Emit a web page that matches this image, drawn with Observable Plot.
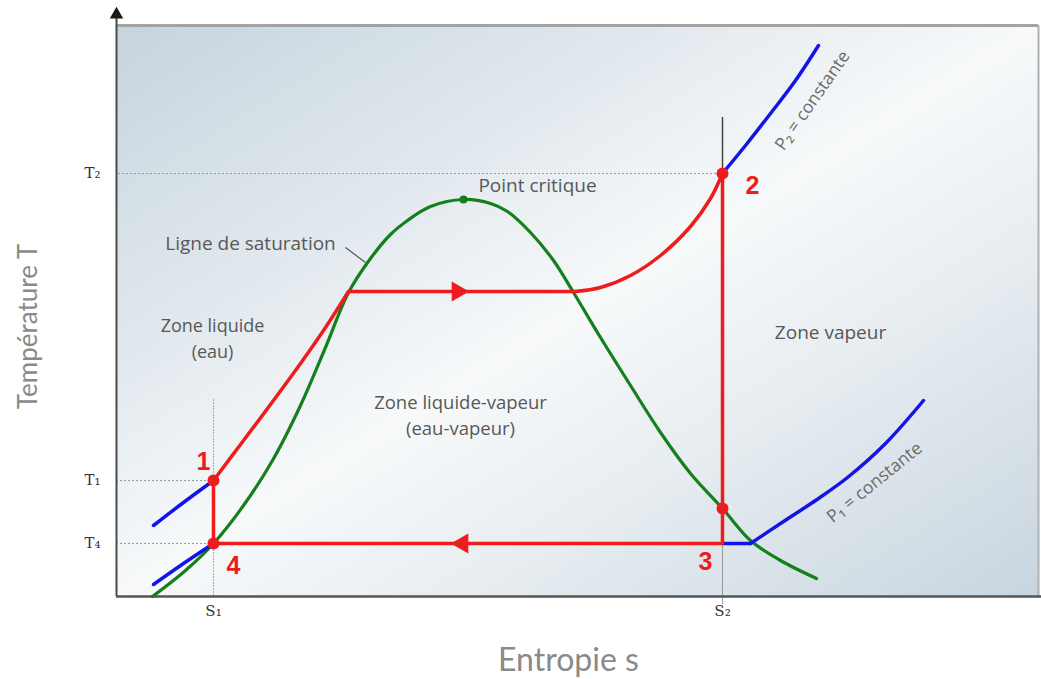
<!DOCTYPE html>
<html>
<head>
<meta charset="utf-8">
<script src="https://cdn.jsdelivr.net/npm/d3@7"></script>
<script src="https://cdn.jsdelivr.net/npm/@observablehq/plot@0.6"></script>
<style>
  body { margin: 0; background: #ffffff; }
  #chart svg { display: block; }
</style>
</head>
<body>
<div id="chart"></div>
<script>
// ---- Data (entropy s, temperature T, arbitrary units) ----
const sTicks = [97, 606];
const sTickLabels = ["S₁", "S₂"];
const tTicks = [53, 116, 423];
const tTickLabels = ["T₄", "T₁", "T₂"];

// Saturation dome (green)
const saturationCurve = [
  [36, 0], [69, 26], [97, 53], [127, 91], [156, 136], [184, 191], [209, 249],
  [232, 304], [254, 338], [274, 362], [291, 376], [314, 390], [347, 397],
  [374, 393], [391, 385], [414, 364], [437, 336], [457, 304], [484, 259],
  [514, 211], [544, 164], [574, 123], [606, 88], [634, 56], [664, 36], [700, 18]
];
const criticalPoint = [[347, 397]];

// Isobars (blue)
const isobarP2Low = [[37, 71], [67, 94], [97, 116]];
const isobarP2High = [[606, 423], [629, 451], [654, 483], [679, 516], [702, 551]];
const isobarP1Low = [[37, 12], [67, 33], [97, 53]];
const isobarP1Flat = [[606, 53], [634, 53]];
const isobarP1High = [[634, 53], [664, 73], [699, 96], [731, 119], [769, 153], [807, 196]];

// Cycle (red)
const cycleLiquid = [[97, 116], [124, 152], [154, 192], [184, 233], [209, 269], [232, 305]];
const cycleEvaporation = [[232, 305], [459, 305]];
const cycleSuperheat = [[459, 305], [484, 309], [514, 321], [544, 341], [574, 370], [594, 398], [606, 423]];
const cycleReturn = [[606, 423], [606, 53], [97, 53], [97, 116]];
const cyclePoints = [[97, 116], [97, 53], [606, 423], [606, 88]];
const flowArrows = [[341, 305, 90], [346, 53, -90]];
const pointNames = ["1", "2", "3", "4"];
const pointLabelPos = [[87, 135], [636, 411], [589, 35], [117, 31]];

const X = d => d[0], Y = d => d[1];
const RED = "#ee1c1c", GREEN = "#14801c", BLUE = "#1414e6", GREY = "#585858";
const labelFont = "Open Sans";

const chart = Plot.plot({
  width: 1041,
  height: 679,
  marginLeft: 116,
  marginRight: 3,
  marginTop: 25,
  marginBottom: 83,
  x: { domain: [0, 922] },
  y: { domain: [0, 571] },
  style: { fontFamily: labelFont, background: "#ffffff", overflow: "visible" },
  marks: [
    Plot.frame({ fill: "url(#bgGrad)", stroke: null }),
    // borders
    Plot.ruleY([571], { x1: 0, x2: 922, stroke: "#a3a3a3", strokeWidth: 3 }),
    Plot.ruleX([922], { y1: 0, y2: 571, stroke: "#b0b0b0", strokeWidth: 2 }),
    // reference lines
    Plot.ruleY([tTicks[2]], { x1: 2, x2: 604, stroke: "#9a9a9a", strokeWidth: 1, strokeDasharray: "2,2" }),
    Plot.ruleY([tTicks[1], tTicks[0]], { x1: 0, x2: 97, stroke: "#9a9a9a", strokeWidth: 1, strokeDasharray: "2,2" }),
    Plot.ruleX([sTicks[0]], { y1: 0, y2: 198, stroke: "#a8a8a8", strokeWidth: 1, strokeDasharray: "2,1" }),
    Plot.ruleX([sTicks[1]], { y1: 423, y2: 479, stroke: "#444", strokeWidth: 1.5 }),
    Plot.ruleX([sTicks[1]], { y1: -8, y2: 53, stroke: "#9a9a9a", strokeWidth: 1 }),
    // axes lines
    Plot.ruleY([0], { x1: 0, x2: 925, stroke: "#555", strokeWidth: 2.5 }),
    Plot.ruleX([0], { y1: 0, y2: 580, stroke: "#4a4a4a", strokeWidth: 2 }),
    Plot.dot([[0, 582]], { x: X, y: Y, symbol: "triangle", r: 5, fill: "#1a1a1a", stroke: null }),
    Plot.axisX(sTicks, { tickSize: 0, tickPadding: 9, fontSize: 15, fontFamily: "DejaVu Serif", fill: "#333",
      tickFormat: d => sTickLabels[sTicks.indexOf(d)] }),
    Plot.axisY(tTicks, { tickSize: 0, tickPadding: 16, fontSize: 15, fontFamily: "DejaVu Serif", fill: "#333",
      tickFormat: d => tTickLabels[tTicks.indexOf(d)] }),
    // saturation dome
    Plot.line(saturationCurve, { x: X, y: Y, stroke: GREEN, strokeWidth: 3.2, curve: "catmull-rom" }),
    Plot.dot(criticalPoint, { x: X, y: Y, r: 4, fill: GREEN, stroke: null }),
    // isobars
    Plot.line(isobarP2Low, { x: X, y: Y, stroke: BLUE, strokeWidth: 3.5, curve: "catmull-rom" }),
    Plot.line(isobarP2High, { x: X, y: Y, stroke: BLUE, strokeWidth: 3.5, curve: "catmull-rom" }),
    Plot.line(isobarP1Low, { x: X, y: Y, stroke: BLUE, strokeWidth: 3.5, curve: "catmull-rom" }),
    Plot.line(isobarP1Flat, { x: X, y: Y, stroke: BLUE, strokeWidth: 3.5 }),
    Plot.line(isobarP1High, { x: X, y: Y, stroke: BLUE, strokeWidth: 3.5, curve: "catmull-rom" }),
    // cycle
    Plot.line(cycleLiquid, { x: X, y: Y, stroke: RED, strokeWidth: 3.5, curve: "catmull-rom" }),
    Plot.line(cycleEvaporation, { x: X, y: Y, stroke: RED, strokeWidth: 3.5 }),
    Plot.line(cycleSuperheat, { x: X, y: Y, stroke: RED, strokeWidth: 3.5, curve: "catmull-rom" }),
    Plot.line(cycleReturn, { x: X, y: Y, stroke: RED, strokeWidth: 3.5, strokeLinejoin: "miter" }),
    Plot.dot(cyclePoints, { x: X, y: Y, r: 6, fill: RED, stroke: null }),
    Plot.dot(flowArrows, { x: X, y: Y, rotate: d => d[2], symbol: "triangle", r: 7.5, fill: RED, stroke: null }),
    Plot.text(pointNames, { x: (d, i) => pointLabelPos[i][0], y: (d, i) => pointLabelPos[i][1], text: d => d,
      fill: RED, fontSize: 25, fontWeight: "bold", fontFamily: "Liberation Sans" }),
    // annotations
    Plot.text(["Point critique"], { x: 421, y: 411, text: d => d, fill: GREY, fontSize: 19 }),
    Plot.text(["Ligne de saturation"], { x: 134, y: 353, text: d => d, fill: GREY, fontSize: 19 }),
    Plot.link([[229, 349, 249, 334]], { x1: d => d[0], y1: d => d[1], x2: d => d[2], y2: d => d[3], stroke: "#555", strokeWidth: 1.2 }),
    Plot.text(["Zone liquide\n(eau)"], { x: 96, y: 259.5, text: d => d, fill: GREY, fontSize: 18, lineHeight: 1.4 }),
    Plot.text(["Zone liquide-vapeur\n(eau-vapeur)"], { x: 344, y: 182.5, text: d => d, fill: GREY, fontSize: 18.5, lineHeight: 1.38 }),
    Plot.text(["Zone vapeur"], { x: 714, y: 264, text: d => d, fill: GREY, fontSize: 19 }),
    Plot.text(["P₂ = constante"], { x: 696, y: 496, text: d => d, fill: "#6a6a6a", fontSize: 17.5, rotate: -55 }),
    Plot.text(["P₁ = constante"], { x: 758, y: 114, text: d => d, fill: "#6a6a6a", fontSize: 17.5, rotate: -39 }),
    // axis titles
    Plot.text(["Entropie s"], { x: 452, y: -64, text: d => d, fill: "#8a8a8a", fontSize: 32, fontFamily: "Lato" }),
    Plot.text(["Température T"], { x: -88, y: 270, text: d => d, fill: "#8a8a8a", fontSize: 26, fontFamily: "Lato", rotate: -90 })
  ]
});

d3.select(chart).insert("defs", ":first-child").html(`
  <linearGradient id="bgGrad" x1="0" y1="0" x2="1" y2="1">
    <stop offset="0" stop-color="#c6d4de"/>
    <stop offset="0.3" stop-color="#e2e9ee"/>
    <stop offset="0.5" stop-color="#f7f9fa"/>
    <stop offset="0.7" stop-color="#e6ecf0"/>
    <stop offset="1" stop-color="#c8d5df"/>
  </linearGradient>`);

document.getElementById("chart").appendChild(chart);
</script>
</body>
</html>
